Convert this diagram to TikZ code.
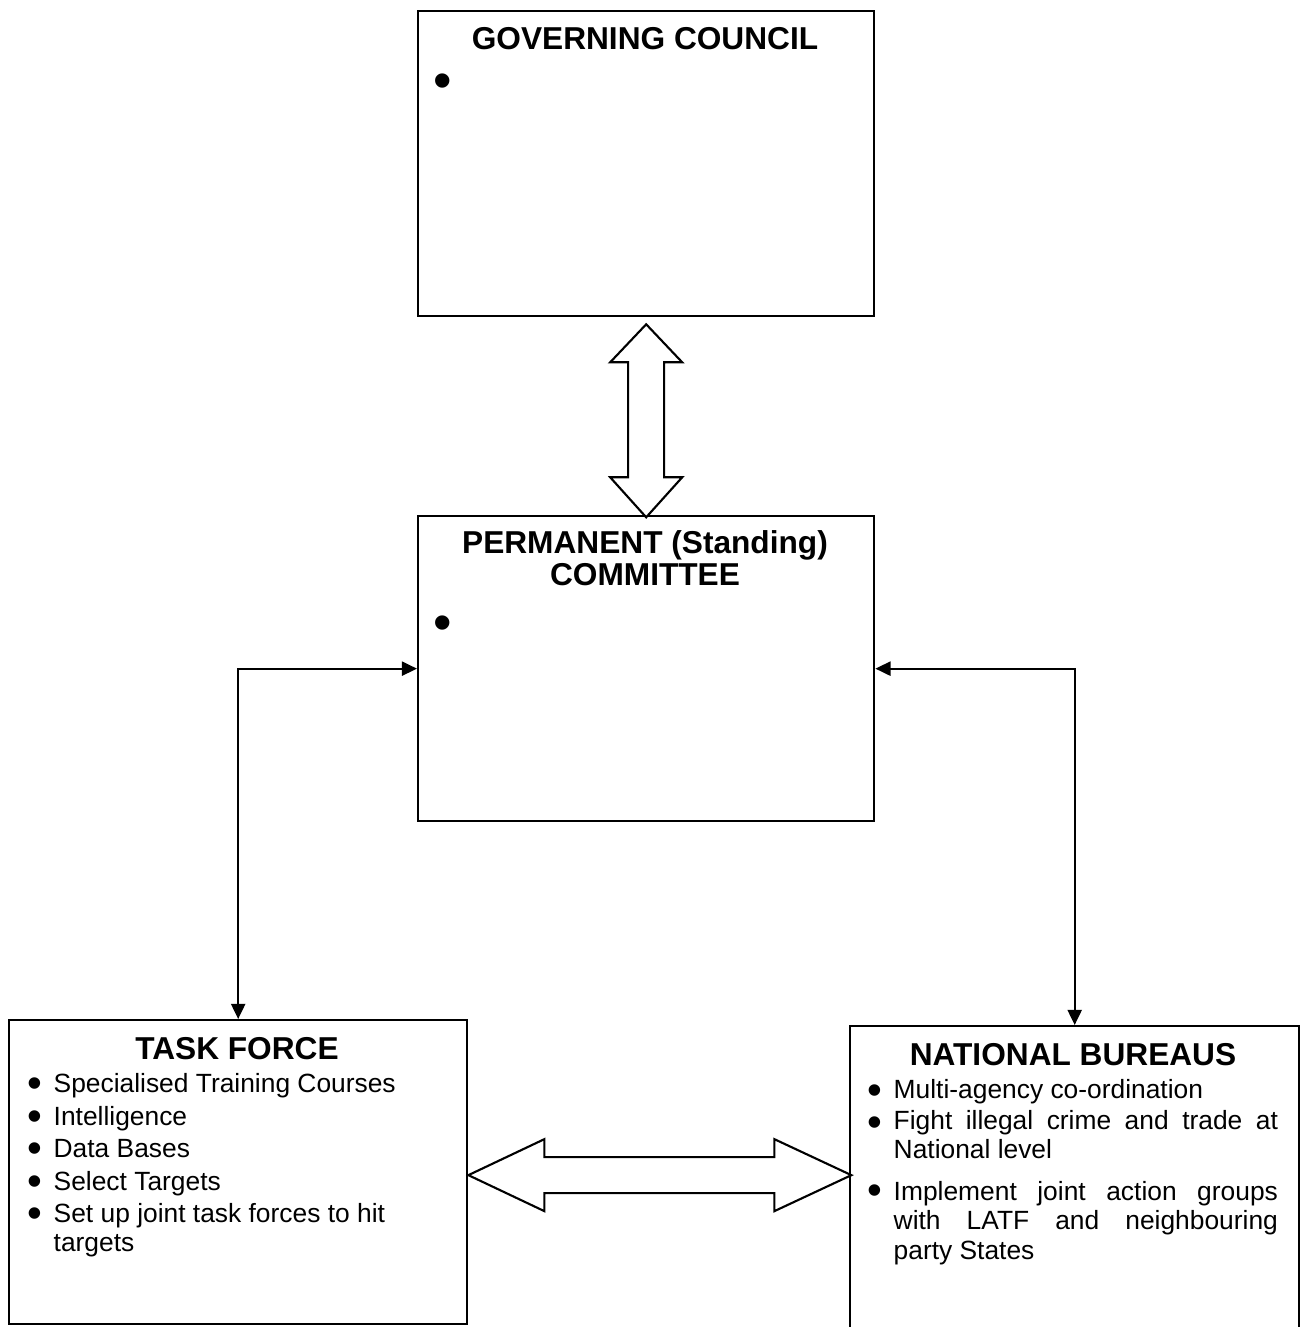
\documentclass[tikz,border=0pt]{standalone}
\usepackage{fontspec}
\setmainfont{Liberation Sans}
\usetikzlibrary{arrows.meta,calc}
\newcommand\bodyfnt{\fontsize{7.5}{8.4}\selectfont}
\newcommand\titlefnt{\fontsize{9}{9.1}\selectfont\bfseries}
\newcommand\bulletmark{\smash{•}}
\begin{document}
\begin{tikzpicture}[x=0.01cm,y=-0.01cm,
  box/.style={draw, line width=0.6pt, inner sep=0, anchor=north west},
  conn/.style={line width=0.6pt, {Triangle[length=4.3pt,width=4pt]}-{Triangle[length=4.3pt,width=4pt]}},
  blockarrow/.style={draw, line width=0.6pt, fill=white, line join=miter},
  title/.style={font=\titlefnt, inner sep=0, anchor=base},
  bul/.style={font=\fontsize{12}{12}\selectfont, inner sep=0, anchor=base},
  itm/.style={font=\bodyfnt, inner sep=0, anchor=base west},
  bigbul/.style={font=\fontsize{15}{15}\selectfont, inner sep=0, anchor=base}]
\useasboundingbox (0,0) rectangle (1304,1327);
% boxes
\node[box, minimum width=4.56cm, minimum height=3.05cm] (gc) at (417,10) {};
\node[box, minimum width=4.56cm, minimum height=3.05cm] (pc) at (417,515) {};
\node[box, minimum width=4.58cm, minimum height=3.04cm] (tf) at (8,1019) {};
\node[box, minimum width=4.49cm, minimum height=3.30cm] (nb) at (849,1025) {};
% connectors
\draw[conn] (pc.west) -| (tf.north);
\draw[conn] (pc.east) -| (nb.north);
% block arrows
\begin{scope}[shift={(gc.south)}]
\draw[blockarrow] (0,7) -- (36,45) -- (18,45) -- (18,160) -- (36,160) -- (0,200)
  -- (-36,160) -- (-18,160) -- (-18,45) -- (-36,45) -- cycle;
\end{scope}
\begin{scope}[shift={(tf.east)}]
\draw[blockarrow] (0,3) -- (76,-33) -- (76,-15) -- (306,-15) -- (306,-33) -- (383,3)
  -- (306,39) -- (306,21) -- (76,21) -- (76,39) -- cycle;
\end{scope}
% governing council
\node[title] (gct) at (645,50) {GOVERNING COUNCIL};
\node[bigbul] (gcb) at (443,98) {\bulletmark};
% permanent committee
\node[title] (pct) at (645,553) {\parbox[t]{4.4cm}{\centering PERMANENT (Standing)\\COMMITTEE}};
\node[bigbul] (pcb) at (443,640) {\bulletmark};
% task force
\node[title] (tft) at (237,1059) {TASK FORCE};
\node[bul] (tfb1) at (35,1097) {\bulletmark};
\node[itm] (tfi1) at (53,1092) {Specialised Training Courses};
\node[bul] (tfb2) at (35,1130) {\bulletmark};
\node[itm] (tfi2) at (53,1125) {Intelligence};
\node[bul] (tfb3) at (35,1162) {\bulletmark};
\node[itm] (tfi3) at (53,1157) {Data Bases};
\node[bul] (tfb4) at (35,1195) {\bulletmark};
\node[itm] (tfi4) at (53,1190) {Select Targets};
\node[bul] (tfb5) at (35,1227) {\bulletmark};
\node[itm] (tfi5) at (53,1222) {\parbox[t]{3.9cm}{\raggedright Set up joint task forces to hit\newline targets}};
% national bureaus
\node[title] (nbt) at (1073,1065) {NATIONAL BUREAUS};
\node[bul] (nbb1) at (875,1104) {\bulletmark};
\node[itm] (nbi1) at (893,1098) {Multi-agency co-ordination};
\node[bul] (nbb2) at (875,1136) {\bulletmark};
\node[itm] (nbi2) at (893,1129) {\parbox[t]{3.84cm}{Fight illegal crime and trade at\linebreak National level}};
\node[bul] (nbb3) at (875,1204) {\bulletmark};
\node[itm] (nbi3) at (893,1200) {\parbox[t]{3.84cm}{Implement joint action groups\linebreak with LATF and neighbouring\linebreak party States}};
\end{tikzpicture}
\end{document}
